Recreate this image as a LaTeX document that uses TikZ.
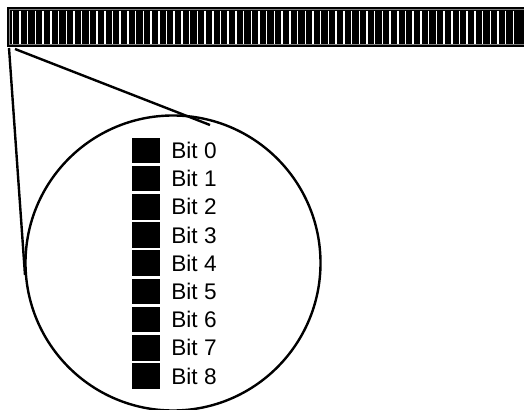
\documentclass[tikz,border=0pt]{standalone}
\usepackage{fontspec}
\setmainfont{Liberation Sans}
\tikzset{
  bitbox/.style={fill=black, minimum width=14pt, minimum height=12.8pt, inner sep=0pt},
  bitlabel/.style={anchor=west, inner sep=0pt, font=\fontsize{11.3}{13}\selectfont},
  lens/.style={line width=1.2pt}
}
\begin{document}
\begin{tikzpicture}[x=0.5pt, y=-0.5pt]
        \useasboundingbox (0,0) rectangle (524,410);

        % Draw the register bar
        \fill[black] (7,7.5) rectangle (540,47.5);
        \draw[gray, line width=0.5pt] (9.5,10) rectangle (545,45);
        \foreach \k in {0,...,65}
            \draw[white, line width=0.75pt] (12.3+7.71*\k,11) -- (12.3+7.71*\k,44);

        \coordinate (barL) at (9,48);
        \coordinate (barR) at (15,49);
        \coordinate (tanL) at (25,275);
        \coordinate (tanR) at (210,125);

        % Draw the magnifier
        \node[draw, lens, circle, minimum size=147.5pt, inner sep=0pt] (zoom) at (173,263) {};
        \draw[lens] (barL) -- (tanL);
        \draw[lens] (barR) -- (tanR);

        % Bits inside the magnifier
        \foreach \i in {0,...,8} {
            \node[bitbox] (sq\i) at (146, 150.5+28.2*\i) {};
            \node[bitlabel] (lb\i) at (171, 150.5+28.2*\i) {Bit \i};
        }
    \end{tikzpicture}
\end{document}
